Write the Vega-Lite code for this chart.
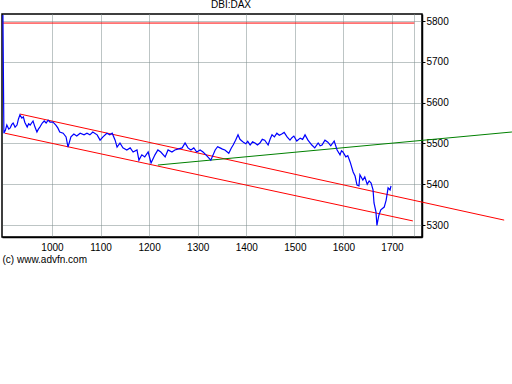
{
  "$schema": "https://vega.github.io/schema/vega-lite/v6.json",
  "width": 420,
  "height": 223,
  "autosize": {"type": "none"},
  "padding": {"left": 2, "top": 14, "right": 90, "bottom": 147},
  "background": "white",
  "config": {"view": {"stroke": "black", "strokeWidth": 1.5}, "font": "Liberation Sans"},
  "title": {"text": "DBI:DAX", "anchor": "middle", "dx": 19, "offset": 2, "fontSize": 10, "fontWeight": "normal", "color": "black", "font": "Liberation Sans"},
  "datasets": {
    "price": [
      {"x": 899, "y": 5815}, {"x": 901, "y": 5525}, {"x": 904, "y": 5532}, {"x": 907, "y": 5545}, {"x": 911, "y": 5535}, {"x": 914, "y": 5538},
      {"x": 917, "y": 5546}, {"x": 920, "y": 5550}, {"x": 924, "y": 5540}, {"x": 928, "y": 5545}, {"x": 931, "y": 5560}, {"x": 934, "y": 5570}, {"x": 938, "y": 5562},
      {"x": 941, "y": 5565}, {"x": 944, "y": 5552}, {"x": 949, "y": 5540}, {"x": 952, "y": 5548}, {"x": 955, "y": 5545}, {"x": 961, "y": 5555},
      {"x": 965, "y": 5540}, {"x": 969, "y": 5528}, {"x": 972, "y": 5535}, {"x": 975, "y": 5540}, {"x": 980, "y": 5550}, {"x": 984, "y": 5555}, {"x": 988, "y": 5550}, {"x": 992, "y": 5557},
      {"x": 996, "y": 5552}, {"x": 1002, "y": 5552}, {"x": 1008, "y": 5545}, {"x": 1012, "y": 5538}, {"x": 1016, "y": 5528},
      {"x": 1023, "y": 5525}, {"x": 1029, "y": 5516}, {"x": 1033, "y": 5491}, {"x": 1039, "y": 5516},
      {"x": 1045, "y": 5523}, {"x": 1051, "y": 5518}, {"x": 1058, "y": 5525}, {"x": 1066, "y": 5521},
      {"x": 1072, "y": 5525}, {"x": 1078, "y": 5521}, {"x": 1084, "y": 5528}, {"x": 1093, "y": 5521},
      {"x": 1099, "y": 5508}, {"x": 1105, "y": 5516}, {"x": 1113, "y": 5525}, {"x": 1119, "y": 5521},
      {"x": 1124, "y": 5525}, {"x": 1130, "y": 5508}, {"x": 1134, "y": 5491}, {"x": 1140, "y": 5501},
      {"x": 1146, "y": 5489}, {"x": 1154, "y": 5484}, {"x": 1161, "y": 5489}, {"x": 1167, "y": 5479},
      {"x": 1175, "y": 5484}, {"x": 1179, "y": 5459}, {"x": 1185, "y": 5472}, {"x": 1191, "y": 5467},
      {"x": 1198, "y": 5479}, {"x": 1204, "y": 5452}, {"x": 1212, "y": 5472}, {"x": 1218, "y": 5484},
      {"x": 1224, "y": 5479}, {"x": 1233, "y": 5467}, {"x": 1239, "y": 5484}, {"x": 1247, "y": 5479},
      {"x": 1253, "y": 5484}, {"x": 1259, "y": 5486}, {"x": 1268, "y": 5489}, {"x": 1274, "y": 5501},
      {"x": 1280, "y": 5489}, {"x": 1286, "y": 5484}, {"x": 1292, "y": 5489}, {"x": 1298, "y": 5479},
      {"x": 1305, "y": 5484}, {"x": 1311, "y": 5479}, {"x": 1317, "y": 5472}, {"x": 1327, "y": 5459},
      {"x": 1336, "y": 5484}, {"x": 1341, "y": 5492}, {"x": 1346, "y": 5489}, {"x": 1351, "y": 5486}, {"x": 1356, "y": 5484}, {"x": 1364, "y": 5476},
      {"x": 1369, "y": 5488}, {"x": 1373, "y": 5496}, {"x": 1378, "y": 5508}, {"x": 1383, "y": 5521}, {"x": 1387, "y": 5510}, {"x": 1391, "y": 5506}, {"x": 1395, "y": 5502}, {"x": 1399, "y": 5499},
      {"x": 1403, "y": 5505}, {"x": 1408, "y": 5496}, {"x": 1413, "y": 5504}, {"x": 1418, "y": 5501}, {"x": 1423, "y": 5496}, {"x": 1428, "y": 5501}, {"x": 1433, "y": 5510}, {"x": 1438, "y": 5508},
      {"x": 1445, "y": 5496}, {"x": 1449, "y": 5510}, {"x": 1453, "y": 5521}, {"x": 1458, "y": 5516}, {"x": 1463, "y": 5525}, {"x": 1468, "y": 5520}, {"x": 1473, "y": 5523},
      {"x": 1478, "y": 5527}, {"x": 1484, "y": 5516}, {"x": 1490, "y": 5508}, {"x": 1494, "y": 5514}, {"x": 1498, "y": 5518}, {"x": 1504, "y": 5506},
      {"x": 1511, "y": 5513}, {"x": 1516, "y": 5510}, {"x": 1521, "y": 5521}, {"x": 1527, "y": 5508}, {"x": 1531, "y": 5502}, {"x": 1535, "y": 5496},
      {"x": 1541, "y": 5489}, {"x": 1548, "y": 5501}, {"x": 1552, "y": 5494}, {"x": 1556, "y": 5496}, {"x": 1562, "y": 5508},
      {"x": 1568, "y": 5503}, {"x": 1574, "y": 5494}, {"x": 1581, "y": 5506}, {"x": 1587, "y": 5484},
      {"x": 1593, "y": 5472}, {"x": 1596, "y": 5482}, {"x": 1599, "y": 5479}, {"x": 1605, "y": 5467}, {"x": 1609, "y": 5470}, {"x": 1614, "y": 5454},
      {"x": 1620, "y": 5430}, {"x": 1624, "y": 5420}, {"x": 1628, "y": 5398}, {"x": 1632, "y": 5396},
      {"x": 1634, "y": 5423}, {"x": 1640, "y": 5410}, {"x": 1644, "y": 5418}, {"x": 1649, "y": 5400},
      {"x": 1653, "y": 5408}, {"x": 1657, "y": 5403}, {"x": 1661, "y": 5386}, {"x": 1663, "y": 5354},
      {"x": 1667, "y": 5332}, {"x": 1669, "y": 5299}, {"x": 1673, "y": 5324}, {"x": 1677, "y": 5337},
      {"x": 1684, "y": 5344}, {"x": 1688, "y": 5361}, {"x": 1692, "y": 5391}, {"x": 1696, "y": 5386},
      {"x": 1698, "y": 5396}
    ],
    "lines": [
      {"line": "top", "x": 898, "y": 5795}, {"line": "top", "x": 1746, "y": 5795},
      {"line": "upper", "x": 934, "y": 5572}, {"line": "upper", "x": 1931, "y": 5312},
      {"line": "lower", "x": 903, "y": 5525}, {"line": "lower", "x": 1743, "y": 5310},
      {"line": "support", "x": 1218, "y": 5447}, {"line": "support", "x": 1947, "y": 5528}
    ]
  },
  "layer": [
    {
      "data": {"name": "lines"},
      "mark": {"type": "line", "strokeWidth": 1, "clip": false},
      "encoding": {
        "x": {
          "field": "x", "type": "quantitative",
          "scale": {"domain": [897.1, 1761.8], "nice": false, "zero": false},
          "axis": {
            "values": [1000, 1100, 1200, 1300, 1400, 1500, 1600, 1700, 1745],
            "labelExpr": "datum.value > 1720 ? '' : datum.label",
            "format": "d", "grid": true, "gridColor": "#7a8a8a", "gridDash": [1, 1], "gridWidth": 1,
            "tickSize": 0, "labelPadding": 5, "labelFontSize": 10, "labelColor": "black", "labelFont": "Liberation Sans",
            "domainColor": "black", "domainWidth": 1.5,
            "title": "(c) www.advfn.com", "titleAnchor": "start", "titleAlign": "left",
            "titleFontWeight": "normal", "titleFontSize": 10, "titlePadding": 2, "titleColor": "black", "titleFont": "Liberation Sans"
          }
        },
        "y": {
          "field": "y", "type": "quantitative",
          "scale": {"domain": [5270.6, 5817.2], "nice": false, "zero": false},
          "axis": {
            "orient": "right", "title": null,
            "values": [5300, 5350, 5400, 5450, 5500, 5550, 5600, 5650, 5700, 5750, 5800],
            "labelExpr": "datum.value % 100 == 0 ? datum.label : ''",
            "format": "d", "grid": true, "gridColor": "#7a8a8a", "gridDash": [1, 1], "gridWidth": 1,
            "gridOpacity": {"condition": {"test": "datum.value % 100 == 0", "value": 1}, "value": 0},
            "tickSize": 3, "tickColor": "black", "labelPadding": 1, "labelFontSize": 10, "labelColor": "black", "labelFont": "Liberation Sans",
            "domainColor": "black", "domainWidth": 1.5
          }
        },
        "color": {
          "field": "line", "type": "nominal",
          "scale": {"domain": ["top", "upper", "lower", "support"], "range": ["#ff0000", "#ff0000", "#ff0000", "#008000"]},
          "legend": null
        }
      }
    },
    {
      "data": {"name": "price"},
      "mark": {"type": "line", "color": "#0000ff", "strokeWidth": 1.2},
      "encoding": {
        "x": {"field": "x", "type": "quantitative"},
        "y": {"field": "y", "type": "quantitative"}
      }
    }
  ]
}
